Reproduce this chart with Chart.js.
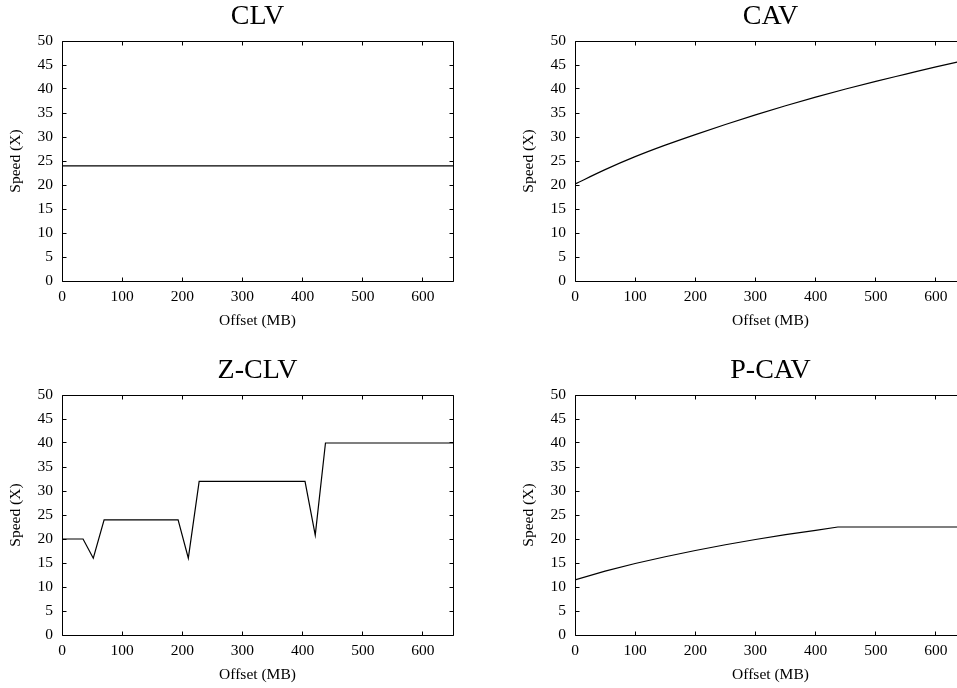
<!DOCTYPE html>
<html>
<head>
<meta charset="utf-8">
<script src="https://cdn.jsdelivr.net/npm/chart.js@4/dist/chart.umd.min.js"></script>
<style>
html,body{margin:0;padding:0;background:#fff;overflow:hidden;width:957px;height:688px;position:relative;}
canvas{position:absolute;}
</style>
</head>
<body>
<canvas id="cClv" width="478" height="344" style="left:0px;top:0px;width:478px;height:344px"></canvas>
<canvas id="cCav" width="478" height="344" style="left:513px;top:0px;width:478px;height:344px"></canvas>
<canvas id="cZclv" width="478" height="344" style="left:0px;top:354px;width:478px;height:344px"></canvas>
<canvas id="cPcav" width="478" height="344" style="left:513px;top:354px;width:478px;height:344px"></canvas>
<script>
// ---- data ----
const xTicks = [0, 100, 200, 300, 400, 500, 600];
const yTicks = [0, 5, 10, 15, 20, 25, 30, 35, 40, 45, 50];

const clvOffset = [0, 650];
const clvSpeed  = [24, 24];

const cavOffset = [0, 50, 100, 150, 200, 250, 300, 350, 400, 450, 500, 550, 600, 650];
const cavSpeed  = [20.2, 23.2, 25.9, 28.3, 30.5, 32.6, 34.6, 36.5, 38.3, 40.0, 41.6, 43.1, 44.6, 46.0];

const zclvOffset = [0, 35, 52, 70, 193, 210, 228, 404, 421, 438, 650];
const zclvSpeed  = [20, 20, 16, 24, 24, 16, 32, 32, 20.8, 40, 40];

const pcavOffset = [0, 50, 100, 150, 200, 250, 300, 350, 400, 437, 650];
const pcavSpeed  = [11.5, 13.3, 14.9, 16.3, 17.6, 18.8, 19.9, 20.9, 21.8, 22.5, 22.5];

// ---- styling ----
const FONT = 'Liberation Serif';

const framePlugin = {
  id: 'frame',
  afterDatasetsDraw(chart) {
    const {ctx, chartArea: a, scales: {x, y}} = chart;
    const L = Math.floor(a.left) + 0.5, R = Math.floor(a.right) + 0.5;
    const T = Math.floor(a.top) + 0.5, B = Math.floor(a.bottom) + 0.5;
    ctx.save();
    ctx.strokeStyle = '#000';
    ctx.lineWidth = 1;
    ctx.beginPath();
    ctx.rect(L, T, R - L, B - T);
    const tl = 4;
    xTicks.forEach(v => {
      const px = Math.floor(x.getPixelForValue(v)) + 0.5;
      ctx.moveTo(px, B); ctx.lineTo(px, B - tl);
      ctx.moveTo(px, T); ctx.lineTo(px, T + tl);
    });
    yTicks.forEach(v => {
      const py = Math.floor(y.getPixelForValue(v)) + 0.5;
      ctx.moveTo(L, py); ctx.lineTo(L + tl, py);
      ctx.moveTo(R, py); ctx.lineTo(R - tl, py);
    });
    ctx.stroke();
    ctx.restore();
  }
};

function makeChart(id, title, xs, ys, mode) {
  new Chart(document.getElementById(id), {
    type: 'line',
    data: {
      datasets: [{
        data: xs.map((v, i) => ({x: v, y: ys[i]})),
        borderColor: '#000',
        borderWidth: 1.2,
        pointRadius: 0,
        fill: false,
        tension: 0,
        cubicInterpolationMode: mode
      }]
    },
    options: {
      responsive: false,
      animation: false,
      devicePixelRatio: 1,
      layout: {padding: {left: 0, right: 25, top: 0, bottom: 0}},
      plugins: {
        legend: {display: false},
        tooltip: {enabled: false},
        title: {
          display: true, text: title, color: '#000', fullSize: false,
          font: {family: FONT, size: 28, weight: 'normal', lineHeight: 1},
          padding: {top: 3, bottom: 10}
        }
      },
      scales: {
        x: {
          type: 'linear', min: 0, max: 650,
          afterBuildTicks: s => { s.ticks = xTicks.map(v => ({value: v})); },
          afterFit: s => { s.height = 63; },
          grid: {display: false, drawTicks: false},
          border: {display: false},
          ticks: {color: '#000', font: {family: FONT, size: 15.5}, padding: 7, maxRotation: 0, autoSkip: false},
          title: {display: true, text: 'Offset (MB)', color: '#000', font: {family: FONT, size: 15.5}, padding: {top: 0, bottom: 14}}
        },
        y: {
          type: 'linear', min: 0, max: 50,
          afterBuildTicks: s => { s.ticks = yTicks.map(v => ({value: v})); },
          afterFit: s => { s.width = 62; },
          grid: {display: false, drawTicks: false},
          border: {display: false},
          ticks: {color: '#000', font: {family: FONT, size: 15.5}, padding: 9, autoSkip: false},
          title: {display: true, text: 'Speed (X)', color: '#000', font: {family: FONT, size: 15.5}, padding: {top: 7, bottom: 0}}
        }
      }
    },
    plugins: [framePlugin]
  });
}

makeChart('cClv', 'CLV', clvOffset, clvSpeed, 'default');
makeChart('cCav', 'CAV', cavOffset, cavSpeed, 'monotone');
makeChart('cZclv', 'Z-CLV', zclvOffset, zclvSpeed, 'default');
makeChart('cPcav', 'P-CAV', pcavOffset, pcavSpeed, 'default');
</script>
</body>
</html>
